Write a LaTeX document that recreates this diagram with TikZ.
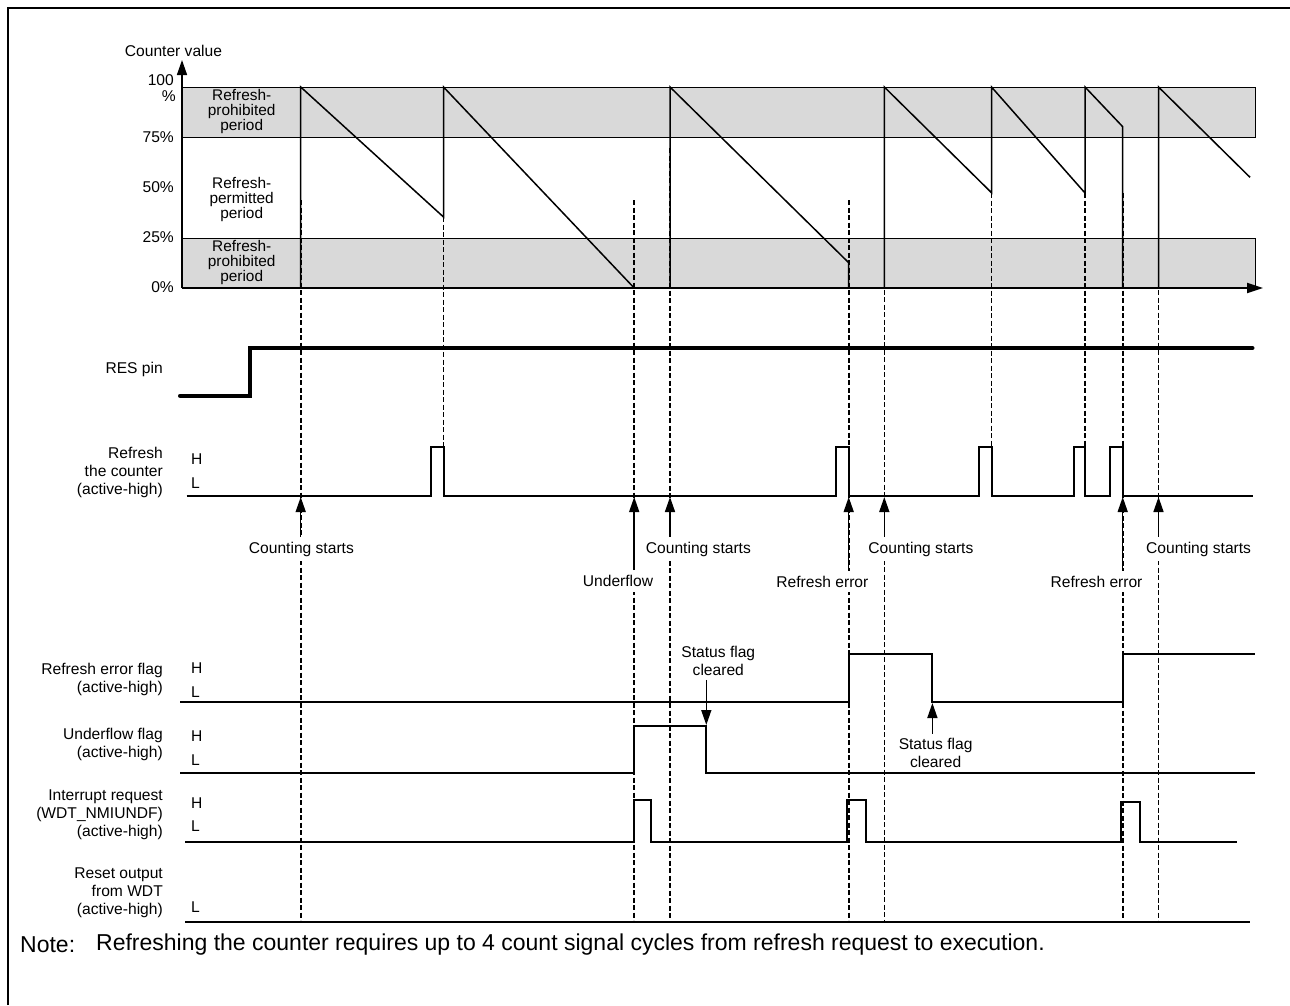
\documentclass[tikz,border=0pt]{standalone}
\usepackage{fontspec}
\setmainfont{Liberation Sans}
\usepackage{xcolor}
\usepackage{tikz}
\usetikzlibrary{shapes,arrows,arrows.meta,positioning}

\definecolor{bandgray}{HTML}{D9D9D9}
\tikzset{
  lbl/.style={font=\fontsize{15.6}{18}\selectfont, inner sep=1pt},
  rowlbl/.style={lbl, anchor=east, align=right},
  hllbl/.style={lbl, anchor=west},
  bandlbl/.style={font=\fontsize{15.4}{15}\selectfont, align=center, inner sep=0pt},
  evlbl/.style={lbl, fill=white, inner xsep=2pt, inner ysep=5pt},
  sflbl/.style={lbl, align=center, inner ysep=4pt},
  notelbl/.style={anchor=west, font=\fontsize{23}{27}\selectfont, inner sep=0pt},
  sigline/.style={line width=2pt},
  evline/.style={dash pattern=on 5pt off 2.5pt, line width=1.6pt},
  evarrow/.style={line width=1.5pt, -{Triangle[length=15pt,width=10pt]}},
}

\begin{document}
\begin{tikzpicture}[x=1pt,y=-1pt]
\useasboundingbox (0,0) rectangle (1290,1005);
% Frame
\draw[line width=2pt] (8,1005) -- (8,8) -- (1290,8);

% Draw refresh bands
\draw[fill=bandgray, line width=0.8pt] (182,87) rectangle (1255,137);
\draw[fill=bandgray, line width=0.8pt] (182,238) rectangle (1255,288);
\node[bandlbl] (bandtop) at (241.7,112) {Refresh-\\prohibited\\period};
\node[bandlbl] (bandmid) at (241.7,200) {Refresh-\\permitted\\period};
\node[bandlbl] (bandbot) at (241.7,263) {Refresh-\\prohibited\\period};

% Axes
\coordinate (org) at (182,288);
\coordinate (ytip) at (182,60);
\coordinate (xtip) at (1263,288);
\draw[line width=1.5pt, -{Triangle[length=15pt,width=10pt]}] (org) -- (ytip);
\draw[line width=1.8pt, -{Triangle[length=16pt,width=10pt]}] (org) -- (xtip);
\node[lbl] (cntval) at (173.5,50.7) {Counter value};
\node[lbl, anchor=east] (p100) at (175,80) {100};
\node[lbl, anchor=east] (pct) at (177,96) {\%};
\foreach \v/\y in {75/137,50/187,25/237,0/287}
  \node[lbl, anchor=east] (p\v) at (175,\y) {\v\%};

% Counter sawtooth
\draw[line width=1.5pt] (300.7,288) -- (300.7,87) -- (443.5,217) -- (443.5,87) -- (634.2,288);
\draw[line width=1.5pt] (670,288) -- (670,87) -- (848.7,262.7) -- (848.7,288);
\draw[line width=1.5pt] (884.3,288) -- (884.3,87) -- (991.5,192.7) -- (991.5,87)
  -- (1085,193) -- (1085,87) -- (1122.7,126.7) -- (1122.7,288);
\draw[line width=1.5pt] (1158.5,288) -- (1158.5,87) -- (1250,177.3);

% Event lines
\foreach \x/\a/\b in {300.7/200/920, 443.5/217/447, 634.2/200/920, 670/148/920,
    848.7/200/920, 884.3/207/920, 991.5/193/447, 1085/193/447, 1122.7/193/920, 1158.5/200/920}
  \draw[evline] (\x,\a) -- (\x,\b);

% RES pin
\node[rowlbl] (res) at (164,369) {RES pin};
\draw[line width=4pt, line cap=round] (180,395.7) -- (250,395.7) -- (250,348) -- (1252.5,348);

% Refresh the counter
\node[rowlbl] (rfs) at (164,472) {Refresh\\the counter\\(active-high)};
\draw[sigline] (186.6,496) -- (431.2,496) -- (431.2,447) -- (443.6,447) -- (443.6,496)
  -- (836,496) -- (836,447) -- (848.6,447) -- (848.6,496)
  -- (979,496) -- (979,447) -- (991.8,447) -- (991.8,496)
  -- (1074.3,496) -- (1074.3,447) -- (1085,447) -- (1085,496)
  -- (1110.2,496) -- (1110.2,447) -- (1123,447) -- (1123,496) -- (1252.5,496);

% Refresh error flag
\node[rowlbl] (ref) at (164,679) {Refresh error flag\\(active-high)};
\draw[sigline] (180.3,702) -- (848.6,702) -- (848.6,654) -- (932.4,654) -- (932.4,702)
  -- (1123,702) -- (1123,654) -- (1254.6,654);

% Underflow flag
\node[rowlbl] (uff) at (164,744) {Underflow flag\\(active-high)};
\draw[sigline] (180.3,773.3) -- (634.1,773.3) -- (634.1,726) -- (706.3,726) -- (706.3,773.3)
  -- (1254.6,773.3);

% Interrupt request
\node[rowlbl] (irq) at (164,814.5) {Interrupt request\\(WDT\_NMIUNDF)\\(active-high)};
\draw[sigline] (185.3,842.3) -- (634.1,842.3) -- (634.1,800) -- (650.8,800) -- (650.8,842.3)
  -- (846.5,842.3) -- (846.5,800) -- (865.7,800) -- (865.7,842.3)
  -- (1120.9,842.3) -- (1120.9,801.7) -- (1140,801.7) -- (1140,842.3) -- (1236.7,842.3);

% Reset output
\node[rowlbl] (rst) at (164,892.5) {Reset output\\from WDT\\(active-high)};
\draw[sigline] (185,921.7) -- (1250,921.7);

% H / L levels
\foreach \n/\t/\y in {h1/H/459.3, l1/L/482.7, h2/H/668.3, l2/L/691.7, h3/H/735.7,
    l3/L/760, h4/H/802.7, l4/L/826, l5/L/906.7}
  \node[hllbl] (\n) at (190,\y) {\t};

% Event labels
\node[evlbl] (cs1) at (301.4,549) {Counting starts};
\node[evlbl] (cs2) at (698.4,549) {Counting starts};
\node[evlbl] (cs3) at (920.9,549) {Counting starts};
\node[evlbl] (cs4) at (1198.6,549) {Counting starts};
\node[evlbl] (uf) at (618,581) {Underflow};
\node[evlbl] (re1) at (822.4,581.7) {Refresh error};
\node[evlbl] (re2) at (1096.5,581.7) {Refresh error};

\coordinate (evA) at (300.7,497);
\coordinate (evC) at (634.2,497);
\coordinate (evD) at (670,497);
\coordinate (evE) at (848.7,497);
\coordinate (evF) at (884.3,497);
\coordinate (evI) at (1122.7,497);
\coordinate (evJ) at (1158.5,497);
\draw[evarrow] (cs1.north -| evA) -- (evA);
\draw[evarrow] (cs2.north -| evD) -- (evD);
\draw[evarrow] (cs3.north -| evF) -- (evF);
\draw[evarrow] (cs4.north -| evJ) -- (evJ);
\draw[evarrow] (uf.north -| evC) -- (evC);
\draw[evarrow] (re1.north -| evE) -- (evE);
\draw[evarrow] (re2.north -| evI) -- (evI);

% Status flag cleared
\node[sflbl] (sf1) at (718.3,661) {Status flag\\cleared};
\node[sflbl] (sf2) at (935.6,752.8) {Status flag\\cleared};
\coordinate (ufclr) at (706.3,725);
\coordinate (reclr) at (932.4,703);
\draw[evarrow] (sf1.south -| ufclr) -- (ufclr);
\draw[evarrow] (sf2.north -| reclr) -- (reclr);

% Note
\node[notelbl] (note) at (20,945) {Note:};
\node[notelbl] (notetxt) at (96,945)
  {Refreshing the counter requires up to 4 count signal cycles from refresh request to execution.};
\end{tikzpicture}
\end{document}
